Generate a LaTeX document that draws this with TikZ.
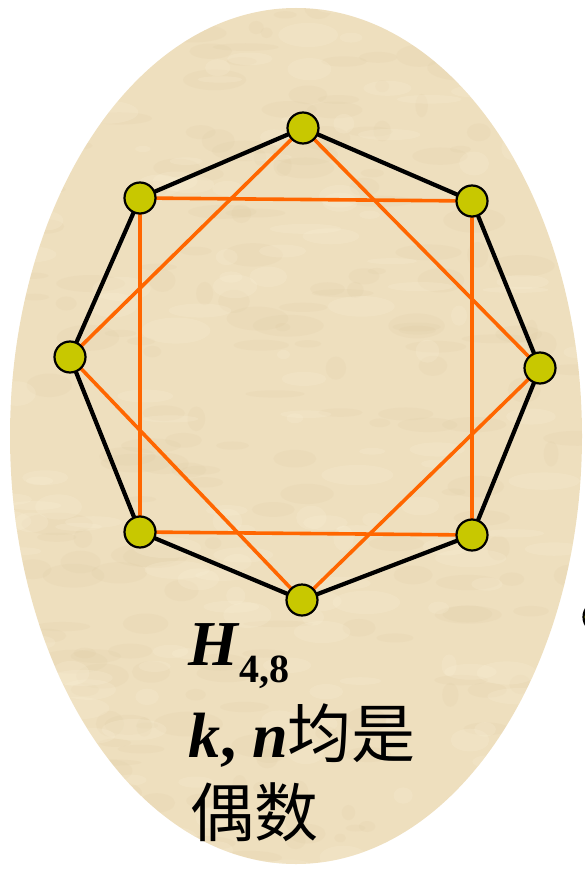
\documentclass[tikz,border=0pt]{standalone}
\usepackage{fontspec}
\setmainfont{Liberation Serif}
\newfontfamily\cjk{Noto Sans CJK SC}
\pgfdeclarelayer{bg}
\pgfdeclarelayer{edges}
\pgfsetlayers{bg,edges,main}
\definecolor{paper}{RGB}{238,223,190}
\definecolor{paperdark}{RGB}{214,192,150}
\definecolor{paperlight}{RGB}{248,238,212}
\definecolor{vfill}{RGB}{200,200,0}
\definecolor{hamorange}{RGB}{255,102,0}
\tikzset{
  vertex/.style={circle,draw=black,line width=2.2pt,fill=vfill,minimum size=31pt,inner sep=0pt},
  cycleedge/.style={draw=black,line width=4.2pt},
  chordedge/.style={draw=hamorange,line width=3.6pt},
  label/.style={anchor=base west,inner sep=0pt,font=\fontsize{64}{70}\selectfont}
}
\begin{document}
\begin{tikzpicture}[x=1pt,y=-1pt]
\useasboundingbox (0,0) rectangle (584,869);
\begin{pgfonlayer}{bg}
  \fill[paper] (296,436) ellipse [x radius=286, y radius=428];
  \begin{scope}
    \clip (296,436) ellipse [x radius=286, y radius=428];
    \pgfmathsetseed{7}
    \foreach \i in {1,...,220}{
      \pgfmathsetmacro\xx{rnd*584}
      \pgfmathsetmacro\yy{rnd*869}
      \pgfmathsetmacro\rx{6+rnd*30}
      \pgfmathsetmacro\ry{3+rnd*10}
      \fill[paperdark,opacity=0.10] (\xx,\yy) ellipse [x radius=\rx, y radius=\ry];
    }
    \foreach \i in {1,...,160}{
      \pgfmathsetmacro\xx{rnd*584}
      \pgfmathsetmacro\yy{rnd*869}
      \pgfmathsetmacro\rx{6+rnd*30}
      \pgfmathsetmacro\ry{3+rnd*10}
      \fill[paperlight,opacity=0.25] (\xx,\yy) ellipse [x radius=\rx, y radius=\ry];
    }
  \end{scope}
\end{pgfonlayer}

\node[vertex] (v0) at (303,128) {};
\node[vertex] (v1) at (472,201) {};
\node[vertex] (v2) at (540,368) {};
\node[vertex] (v3) at (472,535) {};
\node[vertex] (v4) at (302,600) {};
\node[vertex] (v5) at (140,532) {};
\node[vertex] (v6) at (70,357) {};
\node[vertex] (v7) at (140,198) {};
\node[vertex] (cut) at (599,617) {};

\begin{pgfonlayer}{edges}
  \draw[cycleedge] (v0.center) -- (v1.center) -- (v2.center) -- (v3.center) -- (v4.center) -- (v5.center) -- (v6.center) -- (v7.center) -- cycle;
  \draw[chordedge] (v7.center) -- (v1.center) -- (v3.center) -- (v5.center) -- cycle;
  \draw[chordedge] (v0.center) -- (v2.center) -- (v4.center) -- (v6.center) -- cycle;
\end{pgfonlayer}

\node[label] (t1) at (188,665) {\textbf{\textit{H}}\raisebox{-0.27em}{\fontsize{40}{44}\selectfont\textbf{4,8}}};
\node[label] (t2) at (188,757) {\textbf{\textit{k}, \textit{n}}{\cjk 均是}};
\node[label] (t3) at (190,836) {{\cjk 偶数}};
\end{tikzpicture}
\end{document}
